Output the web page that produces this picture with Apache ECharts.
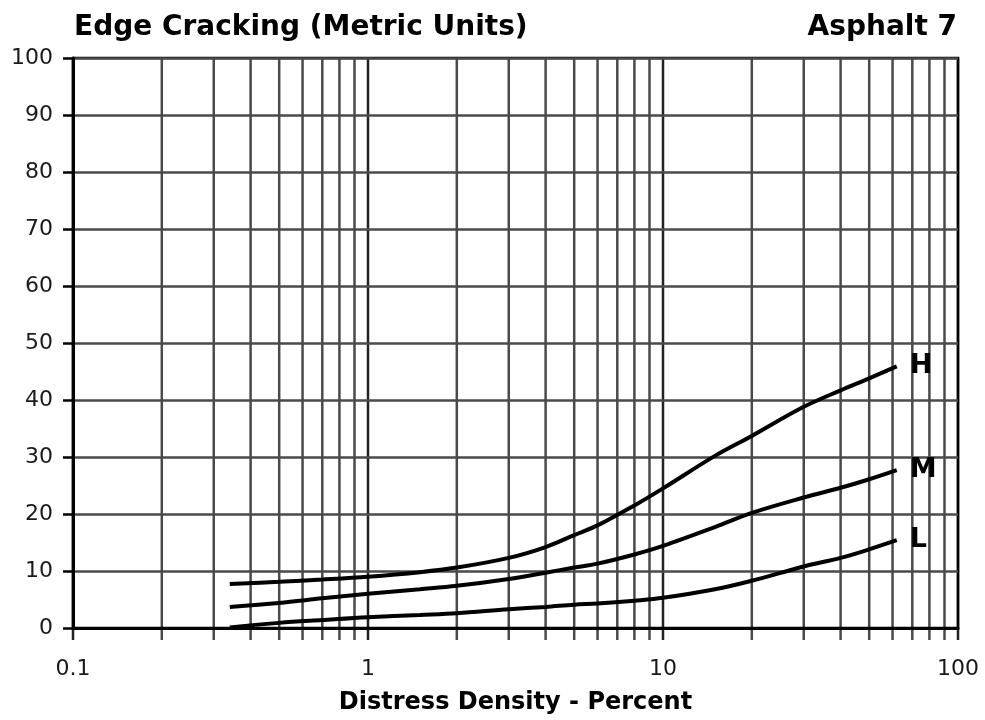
<!DOCTYPE html>
<html>
<head>
<meta charset="utf-8">
<script src="https://cdn.jsdelivr.net/npm/echarts@6/dist/echarts.min.js"></script>
<style>
  html, body { margin: 0; padding: 0; background: #fff; }
  #chart { width: 985px; height: 720px; }
</style>
</head>
<body>
<div id="chart"></div>
<script>
// ---- Data ----
const densityX = [0.34, 0.5, 0.7, 1, 1.5, 2, 3, 4, 5, 6, 8, 10, 15, 20, 30, 40, 50, 62];
const curveH = [7.7, 8.1, 8.5, 9.0, 9.8, 10.6, 12.3, 14.2, 16.3, 18.0, 21.5, 24.5, 30.2, 33.7, 38.8, 41.7, 43.8, 45.9];
const curveM = [3.7, 4.4, 5.2, 6.0, 6.8, 7.4, 8.6, 9.7, 10.6, 11.3, 12.9, 14.4, 17.7, 20.2, 22.9, 24.6, 26.1, 27.7];
const curveL = [0.1, 0.9, 1.4, 1.9, 2.3, 2.6, 3.3, 3.7, 4.1, 4.3, 4.8, 5.3, 6.8, 8.3, 10.8, 12.3, 13.8, 15.4];
const seriesNames = ['H', 'M', 'L'];
const gridLinesX = [0.1, 0.2, 0.3, 0.4, 0.5, 0.6, 0.7, 0.8, 0.9, 1, 2, 3, 4, 5, 6, 7, 8, 9, 10, 20, 30, 40, 50, 60, 70, 80, 90, 100];
const xTickLabels = [0.1, 1, 10, 100];
const titleText = 'Edge Cracking (Metric Units)';
const subTitleText = 'Asphalt 7';
const xAxisName = 'Distress Density - Percent';

const chart = echarts.init(document.getElementById('chart'), null, { renderer: 'canvas' });

function pairs(ys) { return densityX.map((x, i) => [x, ys[i]]); }

const curveStyle = (name, ys) => ({
  name: name,
  type: 'line',
  data: pairs(ys),
  smooth: 0.35,
  showSymbol: false,
  symbol: 'none',
  z: 10,
  lineStyle: { color: '#000', width: 4 },
  endLabel: {
    show: true,
    formatter: '{a}',
    distance: 13,
    color: '#000',
    fontFamily: 'DejaVu Sans',
    fontWeight: 'bold',
    fontSize: 27
  }
});

chart.setOption({
  animation: false,
  backgroundColor: '#fff',
  title: [
    { text: titleText, left: 74, top: 14, padding: 0,
      textStyle: { fontFamily: 'DejaVu Sans', fontWeight: 'bold', fontSize: 28, color: '#000' } },
    { text: subTitleText, right: 28, top: 14, padding: 0,
      textStyle: { fontFamily: 'DejaVu Sans', fontWeight: 'bold', fontSize: 28, color: '#000' } }
  ],
  grid: { left: 73, right: 27, top: 58, bottom: 91, show: true, borderColor: '#000', borderWidth: 2.5, z: 4 },
  xAxis: {
    type: 'log', logBase: 10, min: 0.1, max: 100,
    z: 4,
    name: xAxisName, nameLocation: 'middle', nameGap: 63,
    nameTextStyle: { fontFamily: 'DejaVu Sans', fontWeight: 'bold', fontSize: 24, color: '#000' },
    axisLine: { show: true, lineStyle: { color: '#000', width: 3 } },
    axisTick: { show: false },
    splitLine: { show: false },
    minorTick: { show: false },
    axisLabel: {
      margin: 30, fontFamily: 'DejaVu Sans', fontSize: 22, color: '#1a1a1a',
      formatter: v => (xTickLabels.some(t => Math.abs(t - v) < 1e-9) ? String(v) : '')
    }
  },
  yAxis: {
    type: 'value', min: 0, max: 100, interval: 10,
    z: 4,
    axisLine: { show: true, lineStyle: { color: '#000', width: 3 } },
    axisTick: { show: true, inside: false, length: 10, lineStyle: { color: '#000', width: 2.5 } },
    splitLine: { show: true, lineStyle: { color: '#4a4a4a', width: 2.5 } },
    axisLabel: { margin: 20, fontFamily: 'DejaVu Sans', fontSize: 22, color: '#1a1a1a' }
  },
  series: [
    {
      type: 'custom',
      name: 'vgrid',
      z: 1,
      clip: false,
      silent: true,
      data: gridLinesX.map(v => [v, 0]),
      encode: { x: 0, y: 1 },
      renderItem: function (params, api) {
        const v = api.value(0);
        const top = api.coord([v, 100]);
        const bot = api.coord([v, 0]);
        const major = xTickLabels.some(t => Math.abs(t - v) < 1e-9);
        return {
          type: 'line',
          shape: { x1: top[0], y1: top[1], x2: bot[0], y2: bot[1] + 12 },
          style: { stroke: major ? '#222' : '#4a4a4a', lineWidth: 2.5 }
        };
      }
    },
    curveStyle(seriesNames[0], curveH),
    curveStyle(seriesNames[1], curveM),
    curveStyle(seriesNames[2], curveL)
  ]
});
</script>
</body>
</html>
